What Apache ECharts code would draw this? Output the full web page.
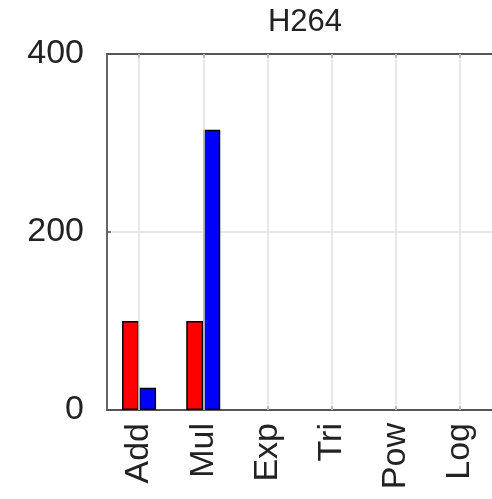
<!DOCTYPE html>
<html>
<head>
<meta charset="utf-8">
<script src="https://cdn.jsdelivr.net/npm/echarts@6/dist/echarts.min.js"></script>
<style>
html,body{margin:0;padding:0;background:#fff;}
#chart{width:492px;height:499px;}
</style>
</head>
<body>
<div id="chart"></div>
<script>
const title = 'H264';
const categories = ['Add', 'Mul', 'Exp', 'Tri', 'Pow', 'Log'];
const redValues = [100, 100, 0, 0, 0, 0];
const blueValues = [25, 315, 0, 0, 0, 0];
const yTicks = [0, 200, 400];

const chart = echarts.init(document.getElementById('chart'));
const axisColor = '#555';
const textColor = '#222';
const gridColor = '#e0e0e0';
const font = 'Liberation Sans, Arial, sans-serif';

function barData(values) {
  // zero-height bars are not visible in the reference: hide their outline
  return values.map(v => (v === 0 ? { value: v, itemStyle: { borderWidth: 0 } } : v));
}

chart.setOption({
  animation: false,
  title: {
    text: title,
    left: 300,
    top: 2,
    textAlign: 'center',
    textStyle: { fontFamily: font, fontSize: 31, fontWeight: 'normal', color: textColor }
  },
  grid: { left: 107, right: -8, top: 54, bottom: 89 },
  xAxis: [
    {
      type: 'category',
      data: categories,
      position: 'bottom',
      boundaryGap: true,
      axisLine: { lineStyle: { color: axisColor, width: 1.8 } },
      axisTick: { show: true, inside: true, alignWithLabel: true, length: 4, lineStyle: { color: axisColor, width: 2 } },
      axisLabel: { rotate: 90, margin: 13, fontFamily: font, fontSize: 34, color: textColor },
      splitLine: { show: false }
    },
    {
      type: 'category',
      data: categories,
      position: 'top',
      boundaryGap: true,
      axisLine: { lineStyle: { color: axisColor, width: 1.8 } },
      axisTick: { show: true, inside: true, alignWithLabel: true, length: 4, lineStyle: { color: axisColor, width: 2 } },
      axisLabel: { show: false },
      splitLine: { show: false }
    }
  ],
  yAxis: {
    type: 'value',
    min: yTicks[0],
    max: yTicks[yTicks.length - 1],
    interval: yTicks[1] - yTicks[0],
    axisLine: { show: true, lineStyle: { color: axisColor, width: 1.8 } },
    axisTick: { show: true, inside: true, length: 4, lineStyle: { color: axisColor, width: 1.5 } },
    axisLabel: { margin: 23, fontFamily: font, fontSize: 34, color: textColor },
    splitLine: { show: true, lineStyle: { color: gridColor, width: 1.5 } }
  },
  series: [
    {
      type: 'line',
      data: [],
      z: 1,
      silent: true,
      markLine: {
        silent: true,
        symbol: ['none', 'none'],
        label: { show: false },
        lineStyle: { color: gridColor, width: 1.5, type: 'solid' },
        data: categories.map(c => ({ xAxis: c }))
      }
    },
    {
      type: 'bar',
      data: barData(redValues),
      z: 2,
      barWidth: 17,
      barGap: '0%',
      itemStyle: { color: '#ff0000', borderColor: '#000', borderWidth: 1.5 }
    },
    {
      type: 'bar',
      data: barData(blueValues),
      z: 2,
      barWidth: 17,
      barGap: '0%',
      itemStyle: { color: '#0000ff', borderColor: '#000', borderWidth: 1.5 }
    }
  ]
});
</script>
</body>
</html>
